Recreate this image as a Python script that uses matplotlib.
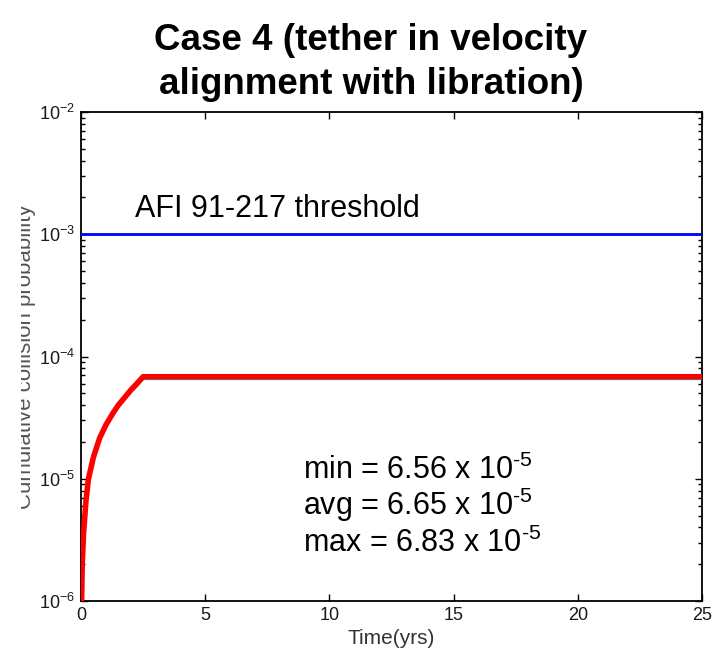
import matplotlib
matplotlib.use("Agg")
import matplotlib.pyplot as plt
from matplotlib.ticker import LogLocator, FixedLocator, NullFormatter, LogFormatterMathtext
from matplotlib.transforms import Bbox

plt.rcParams['font.family'] = ['Liberation Sans', 'DejaVu Sans']
plt.rcParams['mathtext.fontset'] = 'custom'
plt.rcParams['mathtext.rm'] = 'Liberation Sans'
plt.rcParams['mathtext.it'] = 'Liberation Sans'
plt.rcParams['mathtext.default'] = 'regular'

# ---- data ----
time_yrs = [0.0, 0.05, 0.1, 0.2, 0.3, 0.5, 0.75, 1.0, 1.25, 1.5, 1.75, 2.0, 2.25, 2.5, 25.0]
p_max = [5.0e-7, 2.0e-6, 3.5e-6, 6.6e-6, 1.0e-5, 1.5e-5, 2.15e-5, 2.75e-5, 3.35e-5, 4.0e-5, 4.6e-5, 5.3e-5, 6.0e-5, 6.83e-5, 6.83e-5]
p_avg = [5.0e-7, 1.95e-6, 3.4e-6, 6.4e-6, 9.8e-6, 1.47e-5, 2.1e-5, 2.7e-5, 3.3e-5, 3.9e-5, 4.5e-5, 5.2e-5, 5.85e-5, 6.65e-5, 6.65e-5]
p_min = [5.0e-7, 1.9e-6, 3.35e-6, 6.3e-6, 9.6e-6, 1.45e-5, 2.07e-5, 2.65e-5, 3.25e-5, 3.85e-5, 4.45e-5, 5.1e-5, 5.75e-5, 6.56e-5, 6.56e-5]
threshold = 1e-3
threshold_label = "AFI 91-217 threshold"
stats_labels = ["min", "avg", "max"]
stats_values = ["6.56", "6.65", "6.83"]
title_lines = ["Case 4 (tether in velocity", "alignment with libration)"]
xlabel_text = "Time(yrs)"
ylabel_text = "Cumulative collision probability"
xticks = [0, 5, 10, 15, 20, 25]

W, H = 716, 651
fig = plt.figure(figsize=(W / 100, H / 100), dpi=100)
ax = fig.add_axes([81 / W, 1 - 601 / H, (702 - 81) / W, (601 - 112) / H])

ax.axhline(threshold, color='#0000ff', lw=2.0, zorder=3)
ax.plot(time_yrs, p_min, color='#00c8c8', lw=1.8, zorder=3)
ax.plot(time_yrs, p_avg, color='#0000ff', lw=1.0, zorder=3)
ax.plot(time_yrs, p_max, color='#ff0000', lw=4.0, zorder=4, solid_capstyle='butt')

ax.set_yscale('log')
ax.set_ylim(1e-6, 1e-2)
ax.set_xlim(0, 25)
ax.xaxis.set_major_locator(FixedLocator(xticks))
ax.yaxis.set_major_locator(LogLocator(base=10, numticks=10))
ax.yaxis.set_minor_locator(LogLocator(base=10, subs=range(2, 10), numticks=20))
ax.yaxis.set_minor_formatter(NullFormatter())
ax.yaxis.set_major_formatter(LogFormatterMathtext())

ax.tick_params(axis='both', which='both', direction='in', top=True, right=True,
               width=1.0, colors='black', labelcolor='#1a1a1a')
ax.tick_params(axis='both', which='major', length=5, labelsize=13, pad=4)
ax.tick_params(axis='y', which='minor', length=3)
for s in ax.spines.values():
    s.set_linewidth(1.3)
    s.set_color('black')

ax.set_xlabel(xlabel_text, fontsize=15, color='#333333', labelpad=4)
yl = ax.set_ylabel(ylabel_text, fontsize=16, color='#555555')
ax.yaxis.set_label_coords((36 - 81) / 621, 0.5)

for line, yb in zip(title_lines, [50, 94]):
    fig.text(371 / W, 1 - yb / H, line, ha='center', va='baseline',
             fontsize=26.5, fontweight='bold')

fig.text(135 / W, 1 - 217 / H, threshold_label, ha='left', va='baseline',
         fontsize=22, color='black')

baselines = [479, 515.5, 552]
for lab, val, yb in zip(stats_labels, stats_values, baselines):
    fig.text(303 / W, 1 - yb / H, f"{lab} = {val} x 10$^{{\u2010 5}}$", ha='left',
             va='baseline', fontsize=22, color='black')

yl.set_clip_box(Bbox([[21, 0], [80, H]]))
yl.set_clip_on(True)

fig.savefig('out.png', dpi=100)
